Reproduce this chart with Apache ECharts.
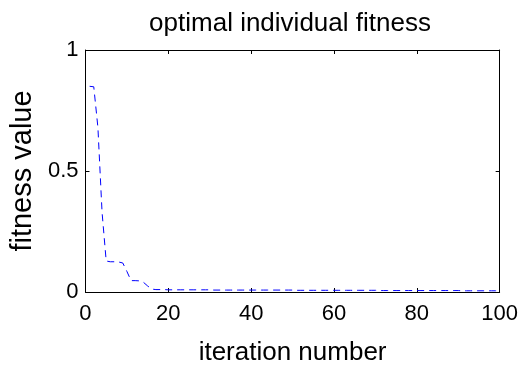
<!DOCTYPE html>
<html><head><meta charset="utf-8">
<script src="https://cdn.jsdelivr.net/npm/echarts@6/dist/echarts.min.js"></script>
<style>html,body{margin:0;padding:0;background:#fff}#c{width:521px;height:371px}</style>
</head><body><div id="c"></div>
<script>
var iterations = [];
for (var i = 1; i <= 100; i++) iterations.push(i);
var fitness = [
  0.850, 0.848, 0.680, 0.330, 0.128, 0.125, 0.125, 0.124, 0.120, 0.085,
  0.047, 0.047, 0.046, 0.040, 0.025, 0.012, 0.010, 0.010, 0.010, 0.009,
  0.009, 0.009, 0.009, 0.009, 0.009, 0.009, 0.009, 0.009, 0.009, 0.009,
  0.008, 0.008, 0.008, 0.008, 0.008, 0.008, 0.008, 0.008, 0.008, 0.008,
  0.008, 0.008, 0.008, 0.008, 0.008, 0.008, 0.008, 0.008, 0.008, 0.008,
  0.007, 0.007, 0.007, 0.007, 0.007, 0.007, 0.007, 0.007, 0.007, 0.007,
  0.007, 0.007, 0.007, 0.007, 0.007, 0.007, 0.007, 0.007, 0.007, 0.007,
  0.006, 0.006, 0.006, 0.006, 0.006, 0.006, 0.006, 0.006, 0.006, 0.006,
  0.006, 0.006, 0.006, 0.006, 0.006, 0.006, 0.006, 0.006, 0.006, 0.006,
  0.005, 0.005, 0.005, 0.005, 0.005, 0.005, 0.005, 0.005, 0.005, 0.005
];
var xTicks = [0, 20, 40, 60, 80, 100];
var yTicks = [0, 0.5, 1];

var data = iterations.map(function (x, k) { return [x, fitness[k]]; });
var font = 'Liberation Sans, Arial, sans-serif';
var chart = echarts.init(document.getElementById('c'), null, {renderer: 'canvas'});
var axisLine = {show: true, onZero: false, lineStyle: {color: '#000', width: 1}};
var tick = {show: true, inside: true, length: 4, lineStyle: {color: '#000'}};
chart.setOption({
  animation: false,
  backgroundColor: '#fff',
  title: {
    text: 'optimal individual fitness', left: 285, top: 6, textAlign: 'center',
    textStyle: {fontFamily: font, fontSize: 26, fontWeight: 'normal', color: '#000'}
  },
  grid: {left: 84, right: 21, top: 50, bottom: 79},
  xAxis: [{
    type: 'value', min: xTicks[0], max: xTicks[xTicks.length - 1], interval: 20,
    axisLine: axisLine, axisTick: tick, splitLine: {show: false},
    axisLabel: {fontFamily: font, fontSize: 22, color: '#000', margin: 11},
    name: 'iteration number', nameLocation: 'middle', nameGap: 48,
    nameTextStyle: {fontFamily: font, fontSize: 26, color: '#000'}
  }, {
    type: 'value', position: 'top', min: 0, max: 100, interval: 20,
    axisLine: axisLine, axisTick: tick, axisLabel: {show: false}, splitLine: {show: false}
  }],
  yAxis: [{
    type: 'value', min: yTicks[0], max: yTicks[yTicks.length - 1], interval: 0.5,
    axisLine: axisLine, axisTick: tick, splitLine: {show: false},
    axisLabel: {fontFamily: font, fontSize: 22, color: '#000', margin: 7},
    name: 'fitness value', nameLocation: 'middle', nameGap: 46,
    nameTextStyle: {fontFamily: font, fontSize: 29, color: '#000'}
  }, {
    type: 'value', position: 'right', min: 0, max: 1, interval: 0.5,
    axisLine: axisLine, axisTick: tick, axisLabel: {show: false}, splitLine: {show: false}
  }],
  series: [{
    type: 'line', data: data, xAxisIndex: 0, yAxisIndex: 0,
    showSymbol: false, symbol: 'none',
    lineStyle: {color: '#0000ff', width: 1, type: [7, 5]}
  }]
});
</script></body></html>
